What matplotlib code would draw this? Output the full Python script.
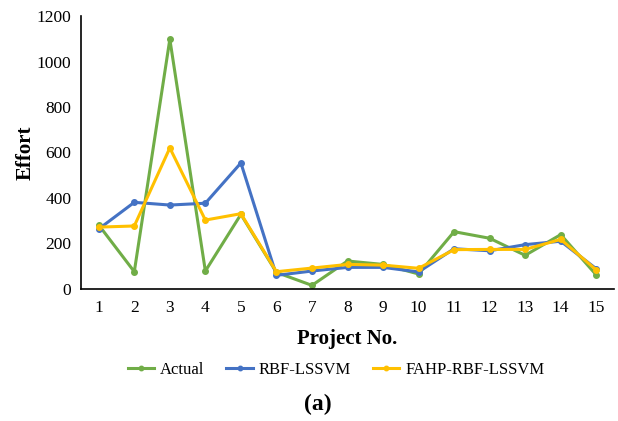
import numpy as np
import matplotlib.pyplot as plt

plt.rcParams['font.family'] = ['Liberation Serif', 'DejaVu Serif']

projects = list(range(1, 16))
actual = [281, 76, 1098, 79, 328, 73, 16, 123, 108, 66, 252, 223, 148, 239, 62]
rbf_lssvm = [264, 381, 369, 377, 554, 60, 79, 95, 95, 75, 177, 168, 195, 210, 89]
fahp_rbf_lssvm = [272, 277, 620, 303, 331, 76, 92, 108, 105, 91, 173, 174, 174, 218, 84]

fig = plt.figure(figsize=(6.18, 4.21), dpi=100)
ax = fig.add_axes([81 / 618, 1 - 289 / 421, (614 - 81) / 618, (289 - 16) / 421])

ax.plot(projects, actual, color='#70AD47', lw=2.2, marker='o', ms=4, label='Actual')
ax.plot(projects, rbf_lssvm, color='#4472C4', lw=2.2, marker='o', ms=4, label='RBF-LSSVM')
ax.plot(projects, fahp_rbf_lssvm, color='#FFC000', lw=2.2, marker='o', ms=4, label='FAHP-RBF-LSSVM')

ax.set_xlim(0.5, 15.5)
ax.set_ylim(0, 1200)
ax.set_xticks(projects)
ax.set_yticks(np.arange(0, 1201, 200))
ax.tick_params(length=0, labelsize=12.5)
ax.tick_params(axis='y', pad=7)
ax.tick_params(axis='x', pad=8)
for s in ['top', 'right']:
    ax.spines[s].set_visible(False)
for s in ['left', 'bottom']:
    ax.spines[s].set_linewidth(1.2)

ax.set_ylabel('Effort', fontsize=15, fontweight='bold', labelpad=1)
ax.set_xlabel('Project No.', fontsize=15, fontweight='bold', labelpad=9)

fig.legend(loc='center', bbox_to_anchor=(336 / 618, 1 - 370 / 421), ncol=3, frameon=False,
           fontsize=12, handlelength=1.6, handletextpad=0.35, columnspacing=1.3,
           markerscale=0.8)
fig.text(318 / 618, 1 - 404 / 421, '(a)', ha='center', va='center', fontsize=17, fontweight='bold')

fig.savefig('out.png')
